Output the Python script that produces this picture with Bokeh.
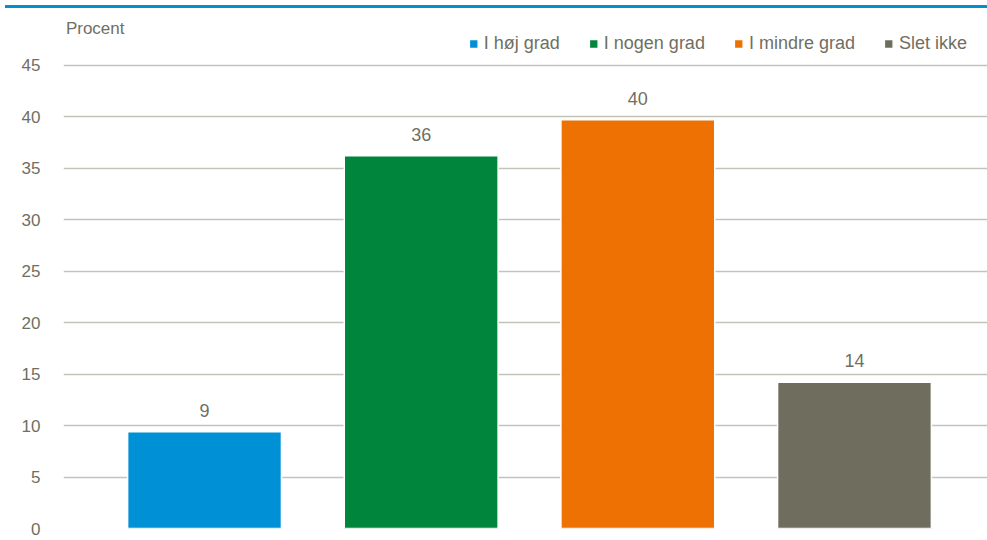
from bokeh.plotting import figure
from bokeh.models import ColumnDataSource, Range1d, FixedTicker, Label, Legend, LegendItem, Div
from bokeh.core.properties import value
from bokeh.layouts import column
from bokeh.embed import file_html
from bokeh.resources import INLINE

categories = ["I høj grad", "I nogen grad", "I mindre grad", "Slet ikke"]
values = [9.4, 36.2, 39.7, 14.2]
colors = ["#0090D6", "#00853D", "#EE7203", "#6F6E5E"]
y_ticks = [0, 5, 10, 15, 20, 25, 30, 35, 40, 45]
y_label = "Procent"

FONT = "Liberation Sans"
TXT = "#6F6F62"

xs = list(range(len(categories)))
labels = [str(int(round(v))) for v in values]
src = ColumnDataSource(dict(x=xs, top=values, color=colors, cat=categories, lab=labels))

p = figure(width=987, height=527, output_backend="svg", toolbar_location=None,
           x_range=Range1d(-0.651, 3.614), y_range=Range1d(0, 50.03))
p.min_border_left = 63
p.min_border_right = 0
p.min_border_top = 0
p.min_border_bottom = 12
p.outline_line_color = None
p.background_fill_color = "white"
p.border_fill_color = "white"

p.xaxis.visible = False
p.xgrid.visible = False
p.ygrid.ticker = FixedTicker(ticks=y_ticks)
p.ygrid.grid_line_color = "#C3C3BA"
p.ygrid.grid_line_width = 1.3

p.yaxis.ticker = FixedTicker(ticks=y_ticks)
p.yaxis.axis_line_color = None
p.yaxis.major_tick_line_color = None
p.yaxis.minor_tick_line_color = None
p.yaxis.major_label_standoff = 17
p.yaxis.major_label_text_font = FONT
p.yaxis.major_label_text_font_size = "17px"
p.yaxis.major_label_text_color = TXT

bars = p.vbar(x="x", top="top", width=0.71, bottom=0, source=src,
              fill_color="color", line_color="white", line_width=1.5)

p.text(x="x", y="top", text="lab", source=src, text_align="center",
       text_baseline="bottom", y_offset=-15, text_font=value(FONT),
       text_font_size="18px", text_color=TXT)

p.add_layout(Label(x=-0.64, y=48.6, text=y_label, text_font=FONT, text_font_size="17px",
                   text_color=TXT, text_baseline="middle", text_align="left"))

items = [LegendItem(label=c, renderers=[bars], index=i) for i, c in enumerate(categories)]
legend = Legend(items=items, orientation="horizontal", location="top_right",
                label_text_font=FONT, label_text_font_size="18px", label_text_color=TXT,
                glyph_width=11, glyph_height=11, label_standoff=5, spacing=28,
                border_line_color=None, background_fill_alpha=0,
                margin=20, padding=10, label_height=11)
p.add_layout(legend)

bar_div = Div(text="", width=987, height=3, styles={"background-color": "#0090D0"})
layout = column(bar_div, p, spacing=0)

open("out.html", "w").write(file_html(layout, INLINE))
